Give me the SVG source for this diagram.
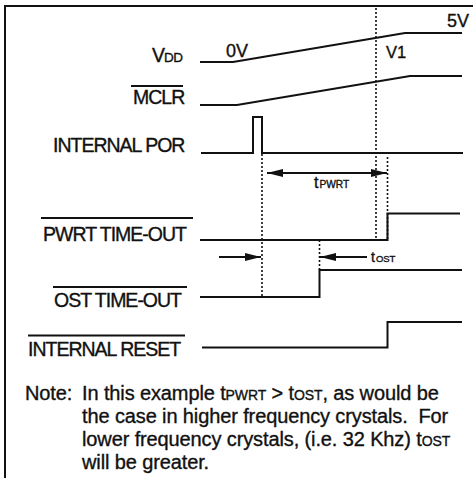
<svg xmlns="http://www.w3.org/2000/svg" width="473" height="478" viewBox="0 0 473 478">
<defs>
<style>
text{stroke:#111;stroke-width:0.35px}
.lbl{font-family:"Liberation Sans",Arial,sans-serif;font-size:19.5px;letter-spacing:-1px;fill:#111}
.sm{font-family:"Liberation Sans",Arial,sans-serif;fill:#111}
.note{font-family:"Liberation Sans",Arial,sans-serif;font-size:20px;letter-spacing:-0.12px;fill:#111;white-space:pre}
.sig{fill:none;stroke:#111;stroke-width:2}
.ovl{stroke:#111;stroke-width:1.8}
.dot{fill:none;stroke:#111;stroke-width:1.6;stroke-dasharray:2 2}
.arr{stroke:#111;stroke-width:2}
</style>
<marker id="ahl" viewBox="0 0 16 8" refX="16" refY="4" markerWidth="16" markerHeight="8" markerUnits="userSpaceOnUse" orient="auto-start-reverse">
<path d="M0,0 L16,4 L0,8 Z" fill="#111"/>
</marker>
</defs>
<rect width="473" height="478" fill="#fff"/>
<g id="frame">
<path d="M473,6 H5 V478" class="sig"/>
</g>
<g id="vdd">
<text class="lbl" x="152" y="62">V<tspan class="sm" font-size="13.5" letter-spacing="-0.5">DD</tspan></text>
<path class="sig" d="M200,62 H233 L405,33 H462"/>
<text class="sm" font-size="18" x="226" y="57">0V</text>
<text class="sm" font-size="16.5" x="386" y="58">V1</text>
<text class="sm" font-size="18" x="447" y="27">5V</text>
</g>
<g id="mclr">
<line class="ovl" x1="131" y1="86" x2="183" y2="86"/>
<text class="lbl" x="133" y="104">MCLR</text>
<path class="sig" d="M200,105 H237 L410,76 H462"/>
</g>
<g id="internal-por">
<text class="lbl" x="53" y="152">INTERNAL POR</text>
<path class="sig" d="M201,153 H253 V117 H262 V153 H463"/>
</g>
<g id="pwrt-timeout">
<line class="ovl" x1="41" y1="218" x2="193" y2="218"/>
<text class="lbl" x="43" y="241">PWRT TIME-OUT</text>
<path class="sig" d="M200,240 H387.5 V213.5 H460"/>
</g>
<g id="ost-timeout">
<line class="ovl" x1="53" y1="287" x2="187" y2="287"/>
<text class="lbl" x="54" y="307">OST TIME-OUT</text>
<path class="sig" d="M200,297 H319.5 V270 H462"/>
</g>
<g id="internal-reset">
<line class="ovl" x1="28" y1="335.5" x2="185" y2="335.5"/>
<text class="lbl" x="28" y="356">INTERNAL RESET</text>
<path class="sig" d="M202,347.5 H387.5 V322 H462"/>
</g>
<g id="connectors">
<line class="dot" x1="376" y1="8" x2="376" y2="240"/>
<line class="dot" x1="262" y1="154" x2="262" y2="297"/>
<line class="dot" x1="387.5" y1="157" x2="387.5" y2="240"/>
<line class="dot" x1="319.5" y1="240" x2="319.5" y2="270"/>
<line class="arr" x1="267" y1="173" x2="387" y2="173" marker-start="url(#ahl)" marker-end="url(#ahl)"/>
<line class="arr" x1="219" y1="257" x2="261" y2="257" marker-end="url(#ahl)"/>
<line class="arr" x1="367" y1="257" x2="320" y2="257" marker-end="url(#ahl)"/>
</g>
<g id="tpwrt-label">
<text class="sm" font-size="16" x="314" y="188">t<tspan font-size="10.2" dx="1">PWRT</tspan></text>
</g>
<g id="tost-label">
<text class="sm" font-size="14" x="371" y="262">t<tspan font-size="9.5" dx="1">OST</tspan></text>
</g>
<g id="note">
<text class="note" x="25" y="400">Note:</text>
<text class="note" x="82" y="400">In this example t<tspan font-size="14">PWRT</tspan> &gt; t<tspan font-size="14">OST</tspan>, as would be</text>
<text class="note" x="82" y="423">the case in higher frequency crystals.&#160; For</text>
<text class="note" x="82" y="446">lower frequency crystals, (i.e. 32 Khz) t<tspan font-size="14">OST</tspan></text>
<text class="note" x="82" y="469">will be greater.</text>
</g>
</svg>
